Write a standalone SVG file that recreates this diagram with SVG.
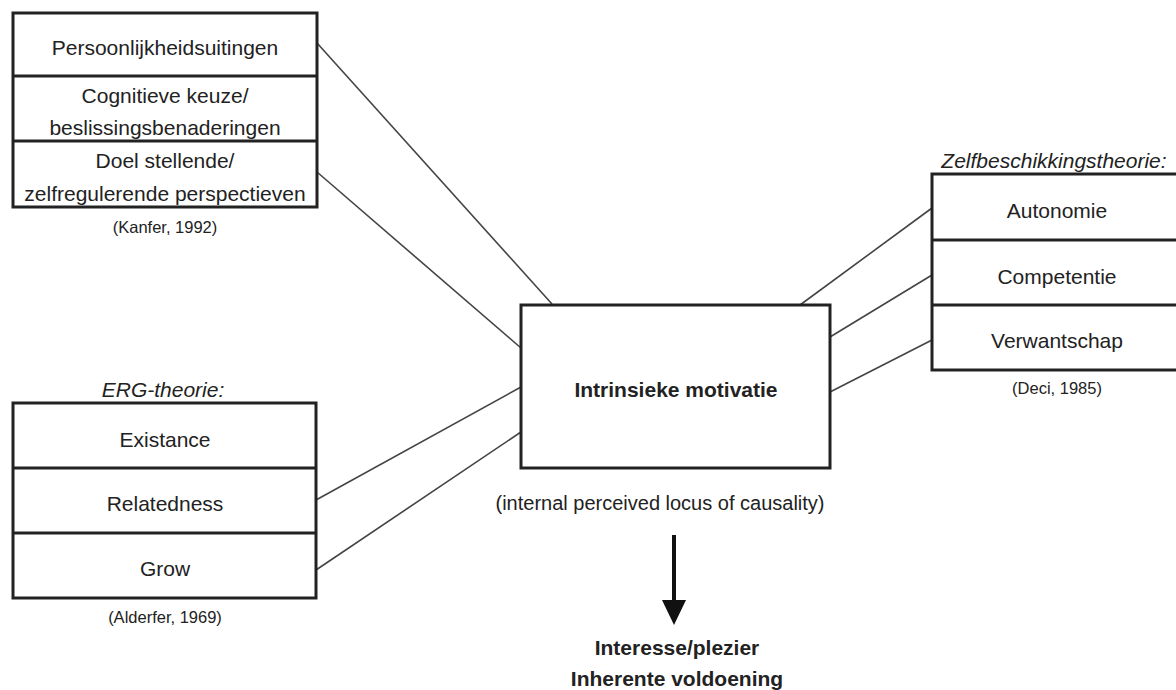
<svg xmlns="http://www.w3.org/2000/svg" width="1176" height="690" viewBox="0 0 1176 690">
<style>
.box{fill:#fff;stroke:#222;stroke-width:3}
.div{stroke:#222;stroke-width:3}
.t{font-family:"Liberation Sans",Arial,sans-serif;font-size:21px;fill:#222;text-anchor:middle;dominant-baseline:central}
.ti{font-style:italic}
.b{font-weight:bold}
.s{font-size:16.5px}
.m{font-size:20px}
.c{stroke:#444;stroke-width:1.6;fill:none}
</style>
<defs>
<marker id="ah" markerWidth="6" markerHeight="6" refX="0" refY="3" orient="auto" markerUnits="userSpaceOnUse" viewBox="0 0 6 6">
<path d="M0,0 L6,3 L0,6 Z" fill="#111"/>
</marker>
</defs>
<rect width="1176" height="690" fill="#fff"/>
<g id="connectors">
<line class="c" x1="317" y1="43" x2="552" y2="304"/>
<line class="c" x1="317" y1="172" x2="521" y2="348"/>
<line class="c" x1="316" y1="500" x2="521" y2="387"/>
<line class="c" x1="316" y1="570" x2="521" y2="432"/>
<line class="c" x1="800" y1="305" x2="932" y2="208"/>
<line class="c" x1="830" y1="337" x2="932" y2="275"/>
<line class="c" x1="830" y1="392" x2="932" y2="340"/>
<line x1="674" y1="535" x2="674" y2="602" stroke="#111" stroke-width="4"/>
<path d="M662,600 L686,600 L674,625 Z" fill="#111"/>
</g>
<g id="kanfer">
<rect class="box" x="13" y="13" width="304" height="194"/>
<line class="div" x1="13" y1="76" x2="317" y2="76"/>
<line class="div" x1="13" y1="141" x2="317" y2="141"/>
<text class="t" x="165" y="47">Persoonlijkheidsuitingen</text>
<text class="t" x="165" y="95">Cognitieve keuze/</text>
<text class="t" x="165" y="127">beslissingsbenaderingen</text>
<text class="t" x="165" y="160">Doel stellende/</text>
<text class="t" x="165" y="193">zelfregulerende perspectieven</text>
<text class="t s" x="165" y="227">(Kanfer, 1992)</text>
</g>
<g id="erg">
<text class="t ti" x="163" y="389">ERG-theorie:</text>
<rect class="box" x="13" y="403" width="303" height="195"/>
<line class="div" x1="13" y1="468" x2="316" y2="468"/>
<line class="div" x1="13" y1="533" x2="316" y2="533"/>
<text class="t" x="165" y="439">Existance</text>
<text class="t" x="165" y="503">Relatedness</text>
<text class="t" x="165" y="568">Grow</text>
<text class="t s" x="165" y="617">(Alderfer, 1969)</text>
</g>
<g id="zelf">
<text class="t ti" x="1054" y="160">Zelfbeschikkingstheorie:</text>
<rect class="box" x="932" y="174" width="252" height="196"/>
<line class="div" x1="932" y1="240" x2="1184" y2="240"/>
<line class="div" x1="932" y1="305" x2="1184" y2="305"/>
<text class="t" x="1057" y="210">Autonomie</text>
<text class="t" x="1057" y="276">Competentie</text>
<text class="t" x="1057" y="340">Verwantschap</text>
<text class="t s" x="1057" y="388">(Deci, 1985)</text>
</g>
<g id="intrinsiek">
<rect class="box" x="521" y="305" width="309" height="163"/>
<text class="t b" x="676" y="389">Intrinsieke motivatie</text>
<text class="t m" x="660" y="503">(internal perceived locus of causality)</text>
</g>
<g id="uitkomst">
<text class="t b" x="677" y="647">Interesse/plezier</text>
<text class="t b" x="677" y="678">Inherente voldoening</text>
</g>
</svg>
